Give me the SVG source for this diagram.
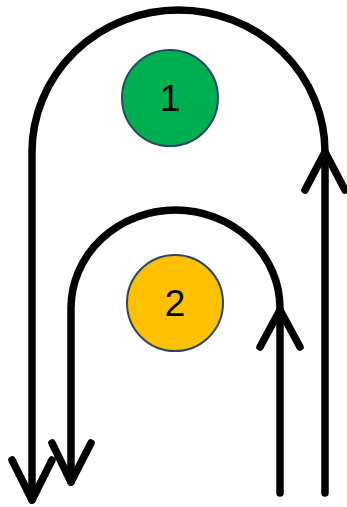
<svg xmlns="http://www.w3.org/2000/svg" width="347" height="507" viewBox="0 0 347 507">
<style>
.c{fill:none;stroke:#000;stroke-width:7.5;stroke-linecap:round;stroke-linejoin:round}
.n{stroke:#2B4766;stroke-width:2}
.t{font-family:"Liberation Sans",Arial,sans-serif;font-size:37px;fill:#000;text-anchor:middle}
</style>
<rect width="347" height="507" fill="#fff"/>
<g id="connectors">
<path class="c" d="M325,493 V152 A146.5,142 0 0 0 32,152 V500" stroke-linecap="butt"/>
<path class="c" d="M305,190 L325,152 L345,190"/>
<path class="c" d="M12,460 L32,500 L52,460"/>
<path class="c" d="M280,493 V308 A104.5,98 0 0 0 71,308 V482" stroke-linecap="butt"/>
<path class="c" d="M260,347 L280,310 L300,347"/>
<path class="c" d="M52,443 L71,482 L91,443"/>
</g>
<g id="node1">
<circle class="n" cx="170" cy="98" r="48" fill="#00B050"/>
<text class="t" x="170" y="111">1</text>
</g>
<g id="node2">
<circle class="n" cx="175" cy="303" r="48" fill="#FFC000"/>
<text class="t" x="175" y="316">2</text>
</g>
</svg>
